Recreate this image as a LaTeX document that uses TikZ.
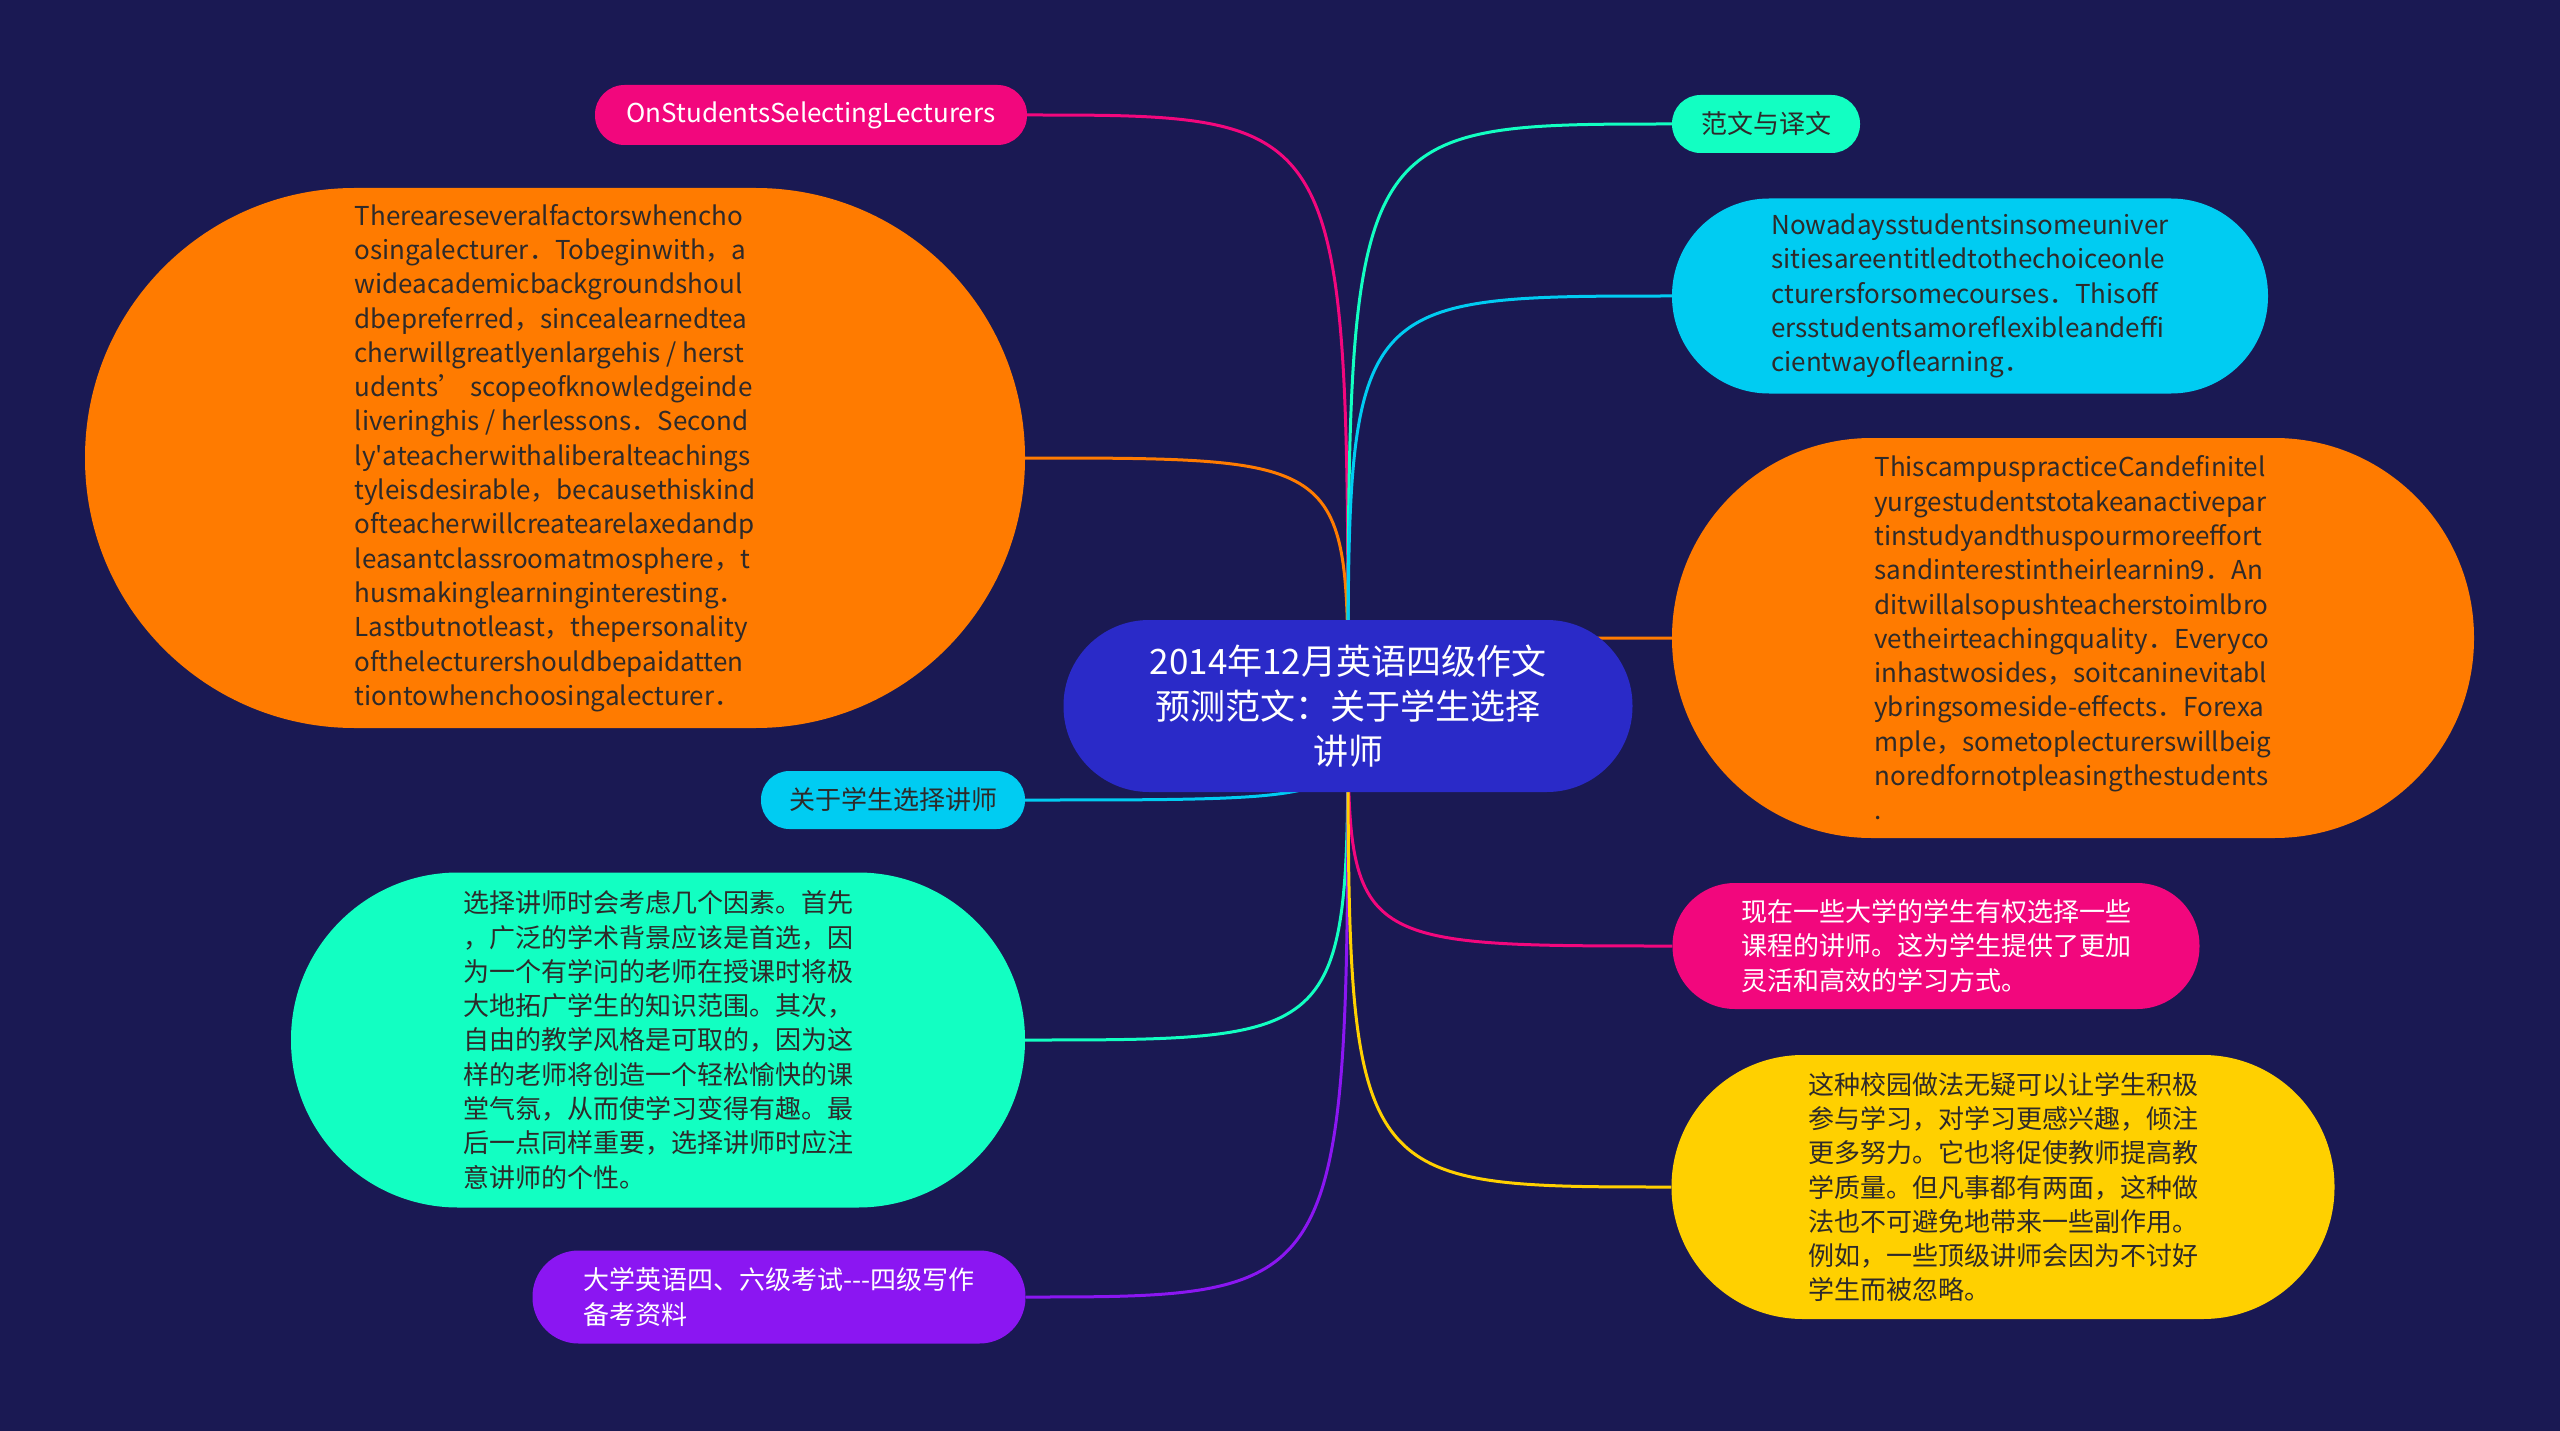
\documentclass[tikz,border=0pt]{standalone}
\usepackage{fontspec}
\setmainfont{Noto Sans CJK SC}[Ligatures=TeXOff]
\usetikzlibrary{calc}
\definecolor{bgc}{HTML}{1A1953}
\definecolor{centerc}{HTML}{2A2AC8}
\definecolor{pinkc}{HTML}{F2077D}
\definecolor{orangec}{HTML}{FF7B00}
\definecolor{cyanc}{HTML}{00CCF2}
\definecolor{greenc}{HTML}{12FFC2}
\definecolor{purplec}{HTML}{8B16F2}
\definecolor{yellowc}{HTML}{FFD000}
\definecolor{darktxt}{HTML}{2E2A2A}
\pgfdeclarelayer{bgl}
\pgfdeclarelayer{edges}
\pgfsetlayers{bgl,edges,main}
\begin{document}
\begin{tikzpicture}[x=1pt,y=-1pt,
  box/.style={rectangle, inner sep=0pt, align=left, text=darktxt,
    font=\fontsize{26}{34.3}\selectfont},
  edge/.style={line width=3pt}]
\useasboundingbox (0,0) rectangle (2560,1431);
\begin{pgfonlayer}{bgl}
\fill[bgc] (0,0) rectangle (2560,1431);
\end{pgfonlayer}

\node[box, fill=centerc, text=white, align=center, minimum width=569, minimum height=172,
  rounded corners=85.5, font=\fontsize{35}{45}\selectfont] (c) at (1348,706)
  {2014年12月英语四级作文\\预测范文：关于学生选择\\讲师};

\node[box, fill=pinkc, text=white, minimum width=432, minimum height=60, rounded corners=29.5]
  (n1) at (811,115) {OnStudentsSelectingLecturers};

\node[box, fill=orangec, minimum width=940, minimum height=540, rounded corners=269.5]
  (n2) at (555,458) {Thereareseveralfactorswhencho\\
osingalecturer．Tobeginwith，a\\
wideacademicbackgroundshoul\\
dbepreferred，sincealearnedtea\\
cherwillgreatlyenlargehis / herst\\
udents’ scopeofknowledgeinde\\
liveringhis / herlessons．Second\\
ly'ateacherwithaliberalteachings\\
tyleisdesirable，becausethiskind\\
ofteacherwillcreatearelaxedandp\\
leasantclassroomatmosphere，t\\
husmakinglearninginteresting．\\
Lastbutnotleast，thepersonality\\
ofthelecturershouldbepaidatten\\
tiontowhenchoosingalecturer．};

\node[box, fill=cyanc, minimum width=264, minimum height=58, rounded corners=28.5]
  (n3) at (893,800) {关于学生选择讲师};

\node[box, fill=greenc, minimum width=734, minimum height=335, rounded corners=167]
  (n4) at (658,1040) {选择讲师时会考虑几个因素。首先\\
，广泛的学术背景应该是首选，因\\
为一个有学问的老师在授课时将极\\
大地拓广学生的知识范围。其次，\\
自由的教学风格是可取的，因为这\\
样的老师将创造一个轻松愉快的课\\
堂气氛，从而使学习变得有趣。最\\
后一点同样重要，选择讲师时应注\\
意讲师的个性。};

\node[box, fill=purplec, text=white, minimum width=493, minimum height=93, rounded corners=46]
  (n5) at (779,1297) {大学英语四、六级考试-{}-{}-四级写作\\备考资料};

\node[box, fill=greenc, minimum width=188, minimum height=58, rounded corners=28.5]
  (n6) at (1766,124) {范文与译文};

\node[box, fill=cyanc, minimum width=596, minimum height=195, rounded corners=97]
  (n7) at (1970,296) {Nowadaysstudentsinsomeuniver\\
sitiesareentitledtothechoiceonle\\
cturersforsomecourses．Thisoff\\
ersstudentsamoreflexibleandeffi\\
cientwayoflearning．};

\node[box, fill=orangec, minimum width=802, minimum height=400, rounded corners=199.5]
  (n8) at (2073,638) {ThiscampuspracticeCandefinitel\\
yurgestudentstotakeanactivepar\\
tinstudyandthuspourmoreeffort\\
sandinterestintheirlearnin9．An\\
ditwillalsopushteacherstoimlbro\\
vetheirteachingquality．Everyco\\
inhastwosides，soitcaninevitabl\\
ybringsomeside-effects．Forexa\\
mple，sometoplecturerswillbeig\\
noredfornotpleasingthestudents\\
.};

\node[box, fill=pinkc, text=white, minimum width=527, minimum height=126, rounded corners=62.5]
  (n9) at (1936,946) {现在一些大学的学生有权选择一些\\
课程的讲师。这为学生提供了更加\\
灵活和高效的学习方式。};

\node[box, fill=yellowc, minimum width=663, minimum height=264, rounded corners=131.5]
  (n10) at (2003,1187) {这种校园做法无疑可以让学生积极\\
参与学习，对学习更感兴趣，倾注\\
更多努力。它也将促使教师提高教\\
学质量。但凡事都有两面，这种做\\
法也不可避免地带来一些副作用。\\
例如，一些顶级讲师会因为不讨好\\
学生而被忽略。};

\begin{pgfonlayer}{edges}
\foreach \n/\col in {n1/pinkc, n2/orangec, n3/cyanc, n4/greenc, n5/purplec}
  \draw[edge, \col] (c.center) .. controls (c.center |- \n.east) .. (\n.east);
\foreach \n/\col in {n6/greenc, n7/cyanc, n8/orangec, n9/pinkc, n10/yellowc}
  \draw[edge, \col] (c.center) .. controls (c.center |- \n.west) .. (\n.west);
\end{pgfonlayer}
\end{tikzpicture}
\end{document}
